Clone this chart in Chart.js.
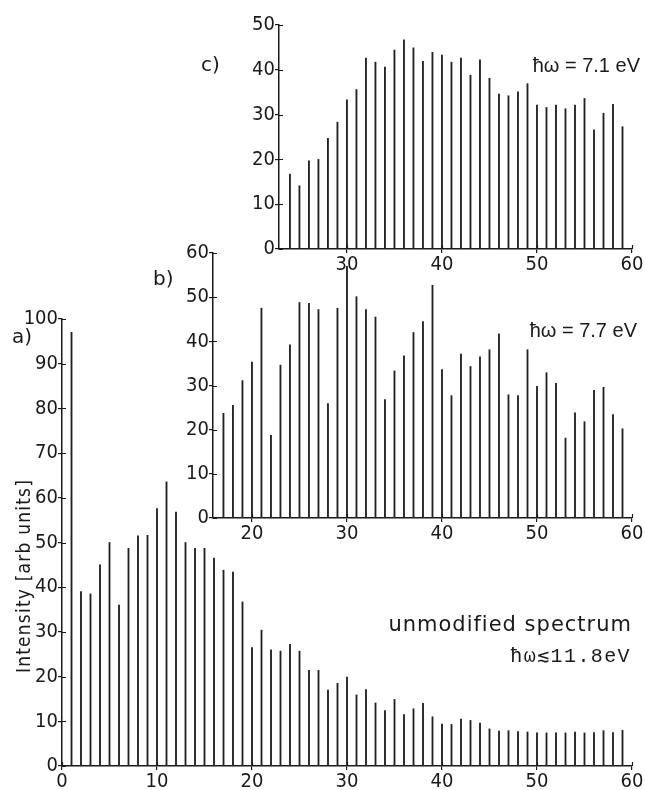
<!DOCTYPE html>
<html>
<head>
<meta charset="utf-8">
<script src="https://cdn.jsdelivr.net/npm/chart.js@4.4.1/dist/chart.umd.min.js"></script>
<style>
html, body { margin: 0; padding: 0; background: #fff; width: 645px; height: 790px; overflow: hidden; }
#page { position: relative; width: 645px; height: 790px; }
canvas { position: absolute; }
.note { position: absolute; color: #1a1a1a; white-space: nowrap; font-family: "DejaVu Sans", sans-serif; }
</style>
</head>
<body>
<div id="page">
  <canvas id="chartA" width="632" height="486" style="left:12px;top:307px"></canvas>
  <canvas id="chartB" width="481" height="304" style="left:163px;top:241px"></canvas>
  <canvas id="chartC" width="415" height="263" style="left:229px;top:13px"></canvas>

  <div class="note" style="left:12px;top:326px;font-size:20px;line-height:20px">a)</div>
  <div class="note" style="left:153px;top:268px;font-size:20px;line-height:20px">b)</div>
  <div class="note" style="left:201px;top:54px;font-size:20px;line-height:20px">c)</div>

  <div class="note" style="right:5px;top:55px;font-family:'Liberation Sans',sans-serif;font-size:20px;line-height:20px">ħω = 7.1 eV</div>
  <div class="note" style="right:8px;top:320px;font-family:'Liberation Sans',sans-serif;font-size:20px;line-height:20px">ħω = 7.7 eV</div>
  <div class="note" style="right:13px;top:614px;font-size:21px;line-height:21px;letter-spacing:1px">unmodified spectrum</div>
  <div class="note" style="right:14px;top:647px;font-family:'Liberation Mono',monospace;font-size:20px;line-height:20px;letter-spacing:1.4px">ħω≲11.8eV</div>

  <div class="note" id="ytitle" style="left:-97px;top:564px;width:240px;height:24px;line-height:24px;text-align:center;transform:rotate(-90deg);font-family:'DejaVu Sans Condensed',sans-serif;font-size:19px;letter-spacing:1.2px">Intensity [arb units]</div>
</div>

<script>
// a) unmodified spectrum, hw <= 11.8 eV
const aOrders = [1, 2, 3, 4, 5, 6, 7, 8, 9, 10, 11, 12, 13, 14, 15, 16, 17, 18, 19, 20,
  21, 22, 23, 24, 25, 26, 27, 28, 29, 30, 31, 32, 33, 34, 35, 36, 37, 38, 39, 40,
  41, 42, 43, 44, 45, 46, 47, 48, 49, 50, 51, 52, 53, 54, 55, 56, 57, 58, 59];
const aIntensity = [97, 39, 38.5, 45, 50, 36, 48.7, 51.5, 51.6, 57.6, 63.6, 56.8, 50, 48.7, 48.7, 46.5, 43.8, 43.4, 36.7, 26.5,
  30.4, 26, 25.7, 27.2, 25.7, 21.4, 21.4, 17, 18.5, 19.9, 15.9, 17.1, 14.1, 12.4, 14.9, 11.5, 12.8, 14, 11, 9.4,
  9.3, 10.5, 10.2, 9.6, 8.3, 7.8, 7.9, 7.7, 7.6, 7.4, 7.4, 7.4, 7.4, 7.6, 7.4, 7.5, 7.9, 7.5, 8];

// b) hw = 7.7 eV
const bOrders = [17, 18, 19, 20, 21, 22, 23, 24, 25, 26, 27, 28, 29, 30, 31, 32, 33, 34, 35, 36,
  37, 38, 39, 40, 41, 42, 43, 44, 45, 46, 47, 48, 49, 50, 51, 52, 53, 54, 55, 56, 57, 58, 59];
const bIntensity = [23.7, 25.5, 31.1, 35.3, 47.5, 18.7, 34.6, 39.2, 48.8, 48.6, 47.2, 25.9, 47.5, 57, 50.1, 47.2, 45.5, 26.8, 33.3, 36.7,
  42, 44.5, 52.7, 33.6, 27.7, 37.1, 34.3, 36.5, 38.1, 41.7, 27.9, 27.7, 38.1, 29.8, 32.9, 30.5, 18.1, 23.8, 21.8, 28.9, 29.6, 23.4, 20.2];

// c) hw = 7.1 eV
const cOrders = [24, 25, 26, 27, 28, 29, 30, 31, 32, 33, 34, 35, 36, 37, 38, 39, 40, 41, 42, 43,
  44, 45, 46, 47, 48, 49, 50, 51, 52, 53, 54, 55, 56, 57, 58, 59];
const cIntensity = [16.7, 14.1, 19.7, 20, 24.7, 28.3, 33.3, 35.6, 42.6, 41.7, 40.6, 44.4, 46.7, 44.9, 41.9, 43.9, 43.3, 41.7, 42.6, 38.8,
  42.2, 38.1, 34.6, 34.2, 35.1, 36.9, 32.1, 31.6, 32.1, 31.3, 32.1, 33.6, 26.6, 30.3, 32.3, 27.3];

const aXTicks = [0, 10, 20, 30, 40, 50, 60];
const aYTicks = [0, 10, 20, 30, 40, 50, 60, 70, 80, 90, 100];
const bXTicks = [20, 30, 40, 50, 60];
const bYTicks = [0, 10, 20, 30, 40, 50, 60];
const cXTicks = [30, 40, 50, 60];
const cYTicks = [0, 10, 20, 30, 40, 50];

const ink = '#1a1a1a';
const tickFont = { family: '"DejaVu Sans Condensed", sans-serif', size: 20 };

// small stubs so the ticks cross the axis lines like in the print
const crossTicks = {
  id: 'crossTicks',
  afterDraw(chart) {
    const ctx = chart.ctx;
    const area = chart.chartArea;
    const xs = chart.scales.x, ys = chart.scales.y;
    ctx.save();
    ctx.strokeStyle = ink;
    ctx.lineWidth = 1.2;
    ctx.beginPath();
    ys.ticks.forEach(t => {
      const y = Math.round(ys.getPixelForValue(t.value)) + 0.5;
      ctx.moveTo(area.left, y);
      ctx.lineTo(area.left + 4, y);
    });
    xs.ticks.forEach(t => {
      const x = Math.round(xs.getPixelForValue(t.value)) + 0.5;
      ctx.moveTo(x, area.bottom);
      ctx.lineTo(x, area.bottom - 4);
    });
    ctx.stroke();
    ctx.restore();
  }
};

function makeData(orders, values) {
  return {
    datasets: [{
      data: orders.map((n, i) => ({ x: n, y: values[i] })),
      backgroundColor: '#222',
      borderWidth: 0,
      barThickness: 1.2,
      grouped: false
    }]
  };
}

function makeOptions(xMin, xMax, yMax, xTicks, yTicks) {
  return {
    responsive: false,
    animation: false,
    devicePixelRatio: 1,
    layout: { padding: { top: 12, right: 12, left: 0, bottom: 0 } },
    plugins: { legend: { display: false }, tooltip: { enabled: false } },
    scales: {
      x: {
        type: 'linear',
        min: xMin,
        max: xMax,
        offset: false,
        afterBuildTicks: s => { s.ticks = xTicks.map(v => ({ value: v })); },
        afterFit: s => { s.height = 27; },
        grid: { display: true, offset: false, drawOnChartArea: false, drawTicks: true, tickLength: 4, color: ink, lineWidth: 1.2 },
        border: { display: true, color: ink, width: 1.5 },
        ticks: { color: ink, font: tickFont, padding: 0, maxRotation: 0, autoSkip: false }
      },
      y: {
        min: 0,
        max: yMax,
        afterBuildTicks: s => { s.ticks = yTicks.map(v => ({ value: v })); },
        afterFit: s => { s.width = 50; },
        grid: { display: true, drawOnChartArea: false, drawTicks: true, tickLength: 4, color: ink, lineWidth: 1.2 },
        border: { display: true, color: ink, width: 1.5 },
        ticks: { color: ink, font: tickFont, padding: 0 }
      }
    }
  };
}

new Chart(document.getElementById('chartA'), {
  type: 'bar',
  data: makeData(aOrders, aIntensity),
  options: makeOptions(0, 60, 100, aXTicks, aYTicks),
  plugins: [crossTicks]
});

new Chart(document.getElementById('chartB'), {
  type: 'bar',
  data: makeData(bOrders, bIntensity),
  options: makeOptions(15.9, 60, 60, bXTicks, bYTicks),
  plugins: [crossTicks]
});

new Chart(document.getElementById('chartC'), {
  type: 'bar',
  data: makeData(cOrders, cIntensity),
  options: makeOptions(22.85, 60, 50, cXTicks, cYTicks),
  plugins: [crossTicks]
});
</script>
</body>
</html>
